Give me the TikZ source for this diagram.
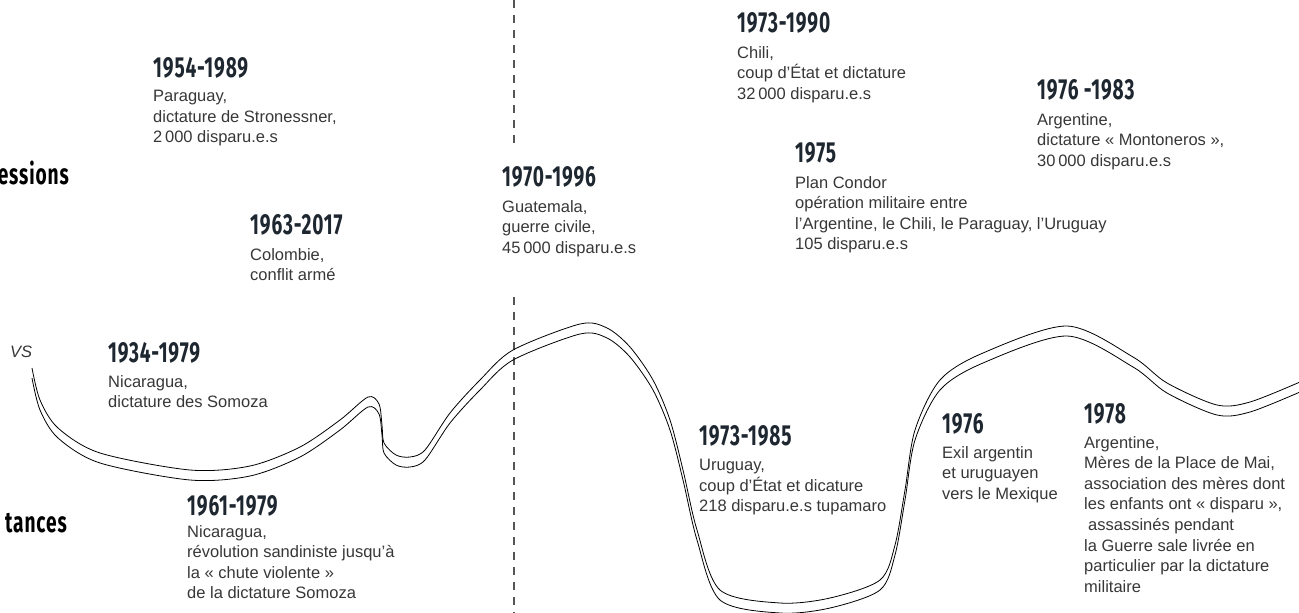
\documentclass[tikz,border=0pt]{standalone}
\usepackage{fontspec}
\setmainfont{Liberation Sans}
\newfontfamily\yearfont[FakeStretch=0.66,LetterSpace=3]{Fira Sans}
\usetikzlibrary{positioning}
\definecolor{ink}{RGB}{30,38,48}
\definecolor{txt}{RGB}{55,55,55}
\definecolor{splitgray}{RGB}{85,85,85}
\tikzset{
  year/.style={font=\yearfont\bfseries\fontsize{29}{29}\selectfont, text=ink, inner sep=0pt, anchor=base west},
  side/.style={font=\yearfont\bfseries\fontsize{29}{29}\selectfont, text=black, inner sep=0pt, anchor=base east},
  note/.style={font=\fontsize{16.5}{20.6}\selectfont, text=txt, inner sep=0pt, align=left},
  wave/.style={line width=0.8pt, line join=round},
  split/.style={splitgray, line width=1.3pt, dash pattern=on 8pt off 7pt}
}
\begin{document}
\begin{tikzpicture}[x=1pt,y=-1pt]
\useasboundingbox (0,0) rectangle (1299,613);
% separation
\coordinate (s0) at (514,0);
\coordinate (s1) at (514,145);
\coordinate (s2) at (514,297);
\coordinate (s3) at (514,613);
\draw[split] (s0) -- (s1);
\draw[split] (s2) -- (s3);
% the two lines of the curve
\foreach \s in {0,-10}
  \draw[wave, yshift=\s pt] plot[smooth, tension=0.5] coordinates {
    (32,368) (40,400) (58,428) (100,453) (190,470) (250,466) (300,447)
    (340,420) (368,397) (379,404) (382,425) (384,443) (396,455) (410,457)
    (425,450) (450,413) (480,380) (513,350) (580,324) (607,328) (630,347)
    (653,380) (670,420) (683,470) (697,530) (720,590) (780,603) (830,598)
    (880,580) (895,545) (905,490) (915,430) (940,380) (983,353) (1067,326)
    (1133,357) (1167,383) (1217,405) (1250,402) (1300,382)};
%
\node[side] (rep) at (69,184) {essions};
\node[side] (res) at (67,532) {tances};
\node[font=\itshape\fontsize{16.5}{16.5}\selectfont, text=txt, inner sep=0pt, anchor=base west] (vs) at (10,357) {VS};
%
\node[year] (t54) at (153,77) {1954-1989};
\node[note, below=13pt of t54.base west, anchor=north west] (d54) {Paraguay,\\dictature de Stronessner,\\2\,000 disparu.e.s};
\node[year] (t63) at (250,234) {1963-2017};
\node[note, below=14pt of t63.base west, anchor=north west] (d63) {Colombie,\\conflit armé};
\node[year] (t70) at (502,186) {1970-1996};
\node[note, below=14pt of t70.base west, anchor=north west] (d70) {Guatemala,\\guerre civile,\\45\,000 disparu.e.s};
\node[year] (t73) at (737,32) {1973-1990};
\node[note, below=14pt of t73.base west, anchor=north west] (d73) {Chili,\\coup d’État et dictature\\32\,000 disparu.e.s};
\node[year] (t75) at (795,162) {1975};
\node[note, below=14pt of t75.base west, anchor=north west] (d75) {Plan Condor\\opération militaire entre\\l’Argentine, le Chili, le Paraguay, l’Uruguay\\105 disparu.e.s};
\node[year] (t83) at (1037,99) {1976 -1983};
\node[note, below=14pt of t83.base west, anchor=north west] (d83) {Argentine,\\dictature « Montoneros »,\\30\,000 disparu.e.s};
%
\node[year] (t34) at (108,362) {1934-1979};
\node[note, below=13pt of t34.base west, anchor=north west] (d34) {Nicaragua,\\dictature des Somoza};
\node[year] (t61) at (187,515) {1961-1979};
\node[note, below=10pt of t61.base west, anchor=north west] (d61) {Nicaragua,\\révolution sandiniste jusqu’à\\la « chute violente »\\de la dictature Somoza};
\node[year] (t85) at (699,445) {1973-1985};
\node[note, below=14pt of t85.base west, anchor=north west] (d85) {Uruguay,\\coup d’État et dicature\\218 disparu.e.s tupamaro};
\node[year] (t76) at (942,433) {1976};
\node[note, below=13pt of t76.base west, anchor=north west] (d76) {Exil argentin\\et uruguayen\\vers le Mexique};
\node[year] (t78) at (1084,423) {1978};
\node[note, below=13pt of t78.base west, anchor=north west] (d78) {Argentine,\\Mères de la Place de Mai,\\association des mères dont\\les enfants ont « disparu »,\\\hspace*{4pt}assassinés pendant\\la Guerre sale livrée en\\particulier par la dictature\\militaire};
\end{tikzpicture}
\end{document}
